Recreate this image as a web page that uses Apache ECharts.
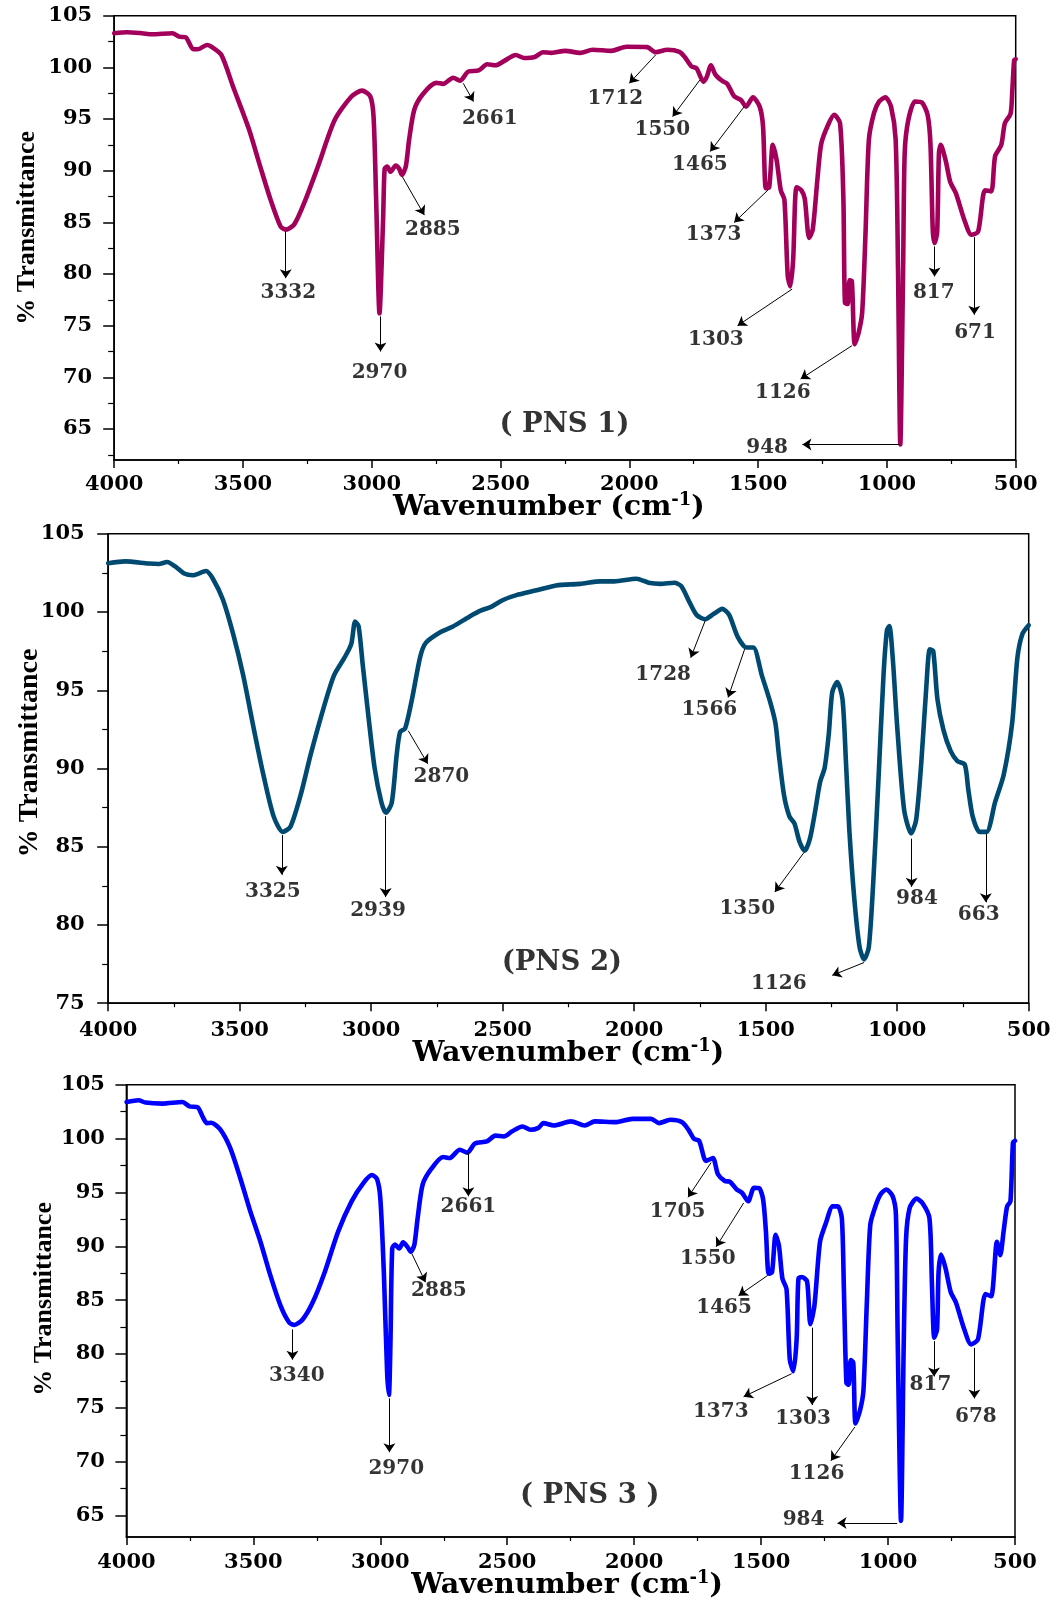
<!DOCTYPE html>
<html>
<head>
<meta charset="utf-8">
<title>FTIR spectra of PNS 1, PNS 2 and PNS 3</title>
<script src="https://cdn.jsdelivr.net/npm/echarts@6/dist/echarts.min.js"></script>
<style>
  html, body { margin: 0; padding: 0; background: #fff; }
  #chart { width: 1056px; height: 1598px; }
</style>
</head>
<body>
<div id="chart"></div>
<script>
// ---------- spectra: wavenumber (cm-1) and % transmittance ----------
const pns1Wavenumber = [4000,3951,3892,3853,3774,3748,3722,3693,3676,3640,3623,3584,3538,3478,3433,3393,3354,3334,3301,3262,3209,3144,3078,3038,3006,2993,2983,2970,2956,2950,2940,2927,2907,2894,2883,2868,2855,2835,2802,2750,2723,2684,2658,2625,2585,2552,2520,2487,2441,2408,2368,2335,2302,2249,2190,2143,2070,2011,1931,1898,1852,1805,1785,1759,1739,1712,1699,1683,1666,1640,1620,1593,1567,1547,1520,1494,1481,1470,1457,1443,1428,1412,1398,1385,1375,1364,1351,1332,1319,1302,1288,1269,1255,1229,1205,1182,1169,1163,1152,1145,1136,1125,1110,1096,1083,1070,1050,1030,1006,984,966,957,948,937,931,917,891,864,842,831,822,815,805,798,791,772,754,732,699,672,646,619,595,580,556,542,520,513,506,500];
const pns1Transmittance = [103.3,103.4,103.3,103.2,103.3,102.97,102.9,101.75,101.75,102.17,102.0,101.2,98.1,94.1,90.4,87.2,84.6,84.3,84.8,86.9,90.4,94.9,97.2,97.75,97.2,95.2,87.2,76.2,85.3,90.2,90.4,89.9,90.5,90.2,89.6,90.4,93.0,95.9,97.4,98.5,98.4,99.0,98.7,99.6,99.7,100.3,100.2,100.6,101.2,100.9,101.0,101.46,101.4,101.6,101.4,101.7,101.6,102.0,101.96,101.46,101.7,101.5,101.0,100.1,99.9,98.6,99.1,100.2,99.3,98.7,98.4,97.2,96.85,96.2,97.1,96.2,94.3,88.3,88.4,92.5,91.0,88.1,87.2,79.8,78.8,81.4,88.4,88.1,87.3,83.5,84.3,89.4,92.6,94.4,95.4,94.6,87.3,77.2,77.1,79.4,79.3,73.2,74.3,76.3,84.0,93.0,95.6,96.7,97.1,96.2,93.0,80.7,63.5,80.7,91.7,94.9,96.7,96.6,95.4,92.6,84.3,83.0,84.0,91.7,92.5,91.0,88.9,87.8,85.2,83.8,84.1,88.1,88.0,91.4,92.5,94.6,95.5,97.8,100.7,100.8];

const pns2Wavenumber = [4000,3936,3846,3808,3776,3744,3711,3679,3628,3602,3564,3525,3487,3448,3410,3371,3336,3307,3269,3230,3179,3141,3102,3076,3061,3048,3032,3012,2987,2961,2944,2922,2903,2890,2871,2845,2813,2791,2736,2691,2627,2582,2544,2499,2448,2376,2297,2206,2128,2076,1991,1945,1900,1847,1821,1789,1763,1730,1697,1665,1639,1606,1573,1547,1515,1482,1463,1450,1430,1410,1391,1371,1352,1332,1313,1293,1276,1260,1247,1228,1208,1195,1182,1163,1143,1126,1108,1091,1071,1052,1039,1030,1017,1000,974,947,928,908,889,876,863,847,824,797,771,743,730,713,687,660,628,595,563,543,524,500];
const pns2Transmittance = [103.12,103.24,103.1,103.07,103.2,102.9,102.46,102.35,102.62,102.13,100.8,98.6,95.97,92.67,89.6,86.94,85.95,86.28,88.26,90.9,93.99,95.97,97.07,97.95,99.39,99.1,96.6,93.55,90.03,87.83,87.17,87.8,90.9,92.34,92.56,94.43,97.18,98.06,98.73,99.06,99.7,100.1,100.33,100.77,101.08,101.37,101.7,101.8,101.96,101.96,102.13,101.87,101.8,101.87,101.65,100.6,99.82,99.54,99.89,100.2,99.82,98.4,97.73,97.73,95.97,94.2,92.9,90.9,88.26,86.94,86.5,85.3,84.74,85.5,87.17,89.15,90.03,92.23,94.87,95.53,94.43,90.47,86.06,81.66,78.58,77.8,78.58,82.76,89.37,95.97,98.83,99.1,97.07,92.67,87.4,85.85,86.72,90.47,95.3,97.62,97.5,94.43,92.45,91.13,90.47,90.25,88.7,86.94,85.95,85.95,87.83,89.6,92.89,97.07,98.6,99.16];

const pns3Wavenumber = [3999,3952,3925,3859,3779,3752,3719,3699,3683,3666,3632,3592,3552,3512,3472,3433,3393,3359,3339,3306,3266,3219,3166,3113,3066,3033,3013,3000,2986,2973,2966,2960,2953,2942,2926,2910,2893,2880,2866,2853,2833,2800,2753,2727,2687,2657,2627,2580,2547,2513,2480,2440,2409,2377,2357,2317,2249,2195,2155,2074,2007,1933,1902,1858,1811,1784,1764,1744,1717,1690,1670,1643,1623,1596,1575,1551,1528,1508,1492,1481,1470,1457,1443,1430,1416,1400,1387,1373,1360,1353,1340,1319,1306,1290,1268,1245,1218,1198,1182,1174,1164,1155,1147,1137,1128,1110,1097,1084,1070,1050,1030,1007,982,969,962,949,938,929,915,888,864,837,827,818,807,801,791,774,753,733,700,673,646,616,594,571,558,545,531,518,508,500];
const pns3Transmittance = [103.4,103.56,103.35,103.25,103.4,103.0,102.9,102.0,101.44,101.47,100.9,99.18,96.37,93.25,90.43,87.3,84.5,82.93,82.7,83.2,84.8,87.6,91.37,94.18,95.9,96.62,96.25,94.5,87.6,78.24,76.2,81.0,89.8,90.17,89.8,90.37,89.95,89.5,90.12,92.6,95.75,97.16,98.3,98.2,98.97,98.7,99.56,99.74,100.28,100.2,100.69,101.13,100.82,101.0,101.44,101.22,101.6,101.22,101.6,101.53,101.84,101.84,101.44,101.75,101.53,100.75,99.97,99.8,97.94,98.19,96.69,96.06,96.0,95.28,94.96,94.18,95.43,95.4,94.34,91.37,87.46,87.6,91.06,90.1,87.0,86.05,79.48,78.4,81.4,87.0,87.15,86.74,82.77,84.5,90.43,92.15,93.71,93.71,92.6,86.05,77.3,77.15,79.43,79.2,73.55,74.8,76.6,84.5,92.0,93.7,94.81,95.28,94.66,92.94,81.36,64.5,81.36,90.74,93.55,94.43,94.0,92.6,86.37,81.52,82.3,87.6,89.24,88.0,85.74,84.8,82.3,80.9,81.36,85.58,85.36,90.43,89.18,91.37,93.71,94.18,99.65,99.8];

// ---------- peak callouts ----------
// [text, arrow tail wn, arrow tail %T, arrow head wn, arrow head %T, text wn, text %T]
const pns1Peaks = [
  ['3332', 3334, 84.1, 3334, 79.6, 3324, 78.15],
  ['2970', 2966, 75.9, 2966, 72.5, 2970, 70.4],
  ['2885', 2881, 89.4, 2796, 85.7, 2763, 84.3],
  ['2661', 2645, 98.46, 2605, 96.69, 2542, 95.07],
  ['1712', 1898, 101.2, 2000, 98.46, 2054, 97.0],
  ['1550', 1726, 98.78, 1832, 95.24, 1872, 93.95],
  ['1465', 1554, 96.2, 1686, 91.85, 1726, 90.56],
  ['1373', 1461, 88.15, 1593, 84.99, 1673, 83.8],
  ['1303', 1368, 78.54, 1580, 75.0, 1664, 73.64],
  ['1126', 1136, 73.06, 1335, 69.84, 1404, 68.49],
  ['948', 951, 63.49, 1328, 63.49, 1465, 63.17],
  ['817', 815, 82.67, 815, 79.77, 818, 78.16],
  ['671', 661, 83.57, 661, 76.06, 658, 74.35]
];
const pns2Peaks = [
  ['3325', 3340, 85.74, 3340, 83.21, 3374, 82.15],
  ['2939', 2945, 86.95, 2945, 81.78, 2974, 80.9],
  ['2870', 2859, 92.41, 2785, 90.3, 2733, 89.48],
  ['1728', 1730, 99.45, 1785, 97.08, 1890, 95.98],
  ['1566', 1580, 97.63, 1643, 94.54, 1714, 93.77],
  ['1350', 1354, 84.64, 1465, 82.11, 1570, 81.01],
  ['1126', 1126, 77.6, 1247, 76.78, 1450, 76.27],
  ['984', 945, 85.52, 945, 82.44, 925, 81.67],
  ['663', 663, 85.81, 663, 81.45, 690, 80.68]
];
const pns3Peaks = [
  ['3340', 3346, 82.29, 3346, 79.48, 3329, 77.98],
  ['2970', 2964, 75.88, 2964, 70.88, 2937, 69.32],
  ['2885', 2876, 89.33, 2822, 86.67, 2769, 85.89],
  ['2661', 2653, 98.71, 2653, 94.65, 2653, 93.71],
  ['1705', 1697, 97.78, 1788, 94.55, 1829, 93.18],
  ['1550', 1569, 94.02, 1677, 89.96, 1710, 88.8],
  ['1465', 1474, 87.3, 1589, 85.42, 1646, 84.33],
  ['1373', 1380, 78.17, 1569, 76.04, 1659, 74.63],
  ['1303', 1299, 82.45, 1299, 75.26, 1335, 74.0],
  ['1126', 1131, 73.22, 1225, 70.1, 1282, 68.85],
  ['984', 964, 64.31, 1199, 64.31, 1333, 64.62],
  ['817', 819, 81.2, 819, 77.92, 833, 77.14],
  ['678', 660, 80.57, 660, 75.88, 654, 74.16]
];

// sample tags: [text, wn, %T]
const sampleTags = [
  ['( PNS 1)', 2252, 65.4],
  ['(PNS 2)', 2275, 77.55],
  ['( PNS 3 )', 2175, 66.8]
];

// axis ranges and tick values
const xTicks = [4000, 3500, 3000, 2500, 2000, 1500, 1000, 500];
const yRanges = [[62, 105], [75, 105], [63, 105]];
const yMajorTicks = [
  [65, 70, 75, 80, 85, 90, 95, 100, 105],
  [75, 80, 85, 90, 95, 100, 105],
  [65, 70, 75, 80, 85, 90, 95, 100, 105]
];
const yMinorTicks = [
  [62.5, 67.5, 72.5, 77.5, 82.5, 87.5, 92.5, 97.5, 102.5],
  [77.5, 82.5, 87.5, 92.5, 97.5, 102.5],
  [67.5, 72.5, 77.5, 82.5, 87.5, 92.5, 97.5, 102.5]
];

// ---------- layout / style ----------
const spectra = [
  { wn: pns1Wavenumber, t: pns1Transmittance, peaks: pns1Peaks, color: '#A2005A' },
  { wn: pns2Wavenumber, t: pns2Transmittance, peaks: pns2Peaks, color: '#004A72' },
  { wn: pns3Wavenumber, t: pns3Transmittance, peaks: pns3Peaks, color: '#0000FF' }
];
const grids = [
  { left: 114.2, top: 15.7, width: 901.5, height: 444.3 },
  { left: 108.2, top: 533.8, width: 920.5, height: 469.4 },
  { left: 126.4, top: 1084.8, width: 888.6, height: 452.3 }
];
const xLabelMargin = [14, 17, 15];
const xNameGap = [31.5, 34, 32.5];
const xNamePad = [[0, 32, 0, 0], [0, 0, 0, 0], [0, 7, 0, 0]];
const yLabelMargin = [22, 23.5, 21.5];
const yNamePad = [[0, 0, 0, 20], [0, 0, 0, 31], [0, 0, 0, 24]];
const yNameGap = [74, 64, 69];
const yNameSize = [26, 28, 26];

const TICK_FONT = 'DejaVu Serif';
const black = '#000';

const option = {
  animation: false,
  backgroundColor: '#fff',
  grid: grids.map(g => Object.assign({
    show: true, borderColor: black, borderWidth: 1.5, backgroundColor: 'transparent',
    containLabel: false, outerBoundsMode: 'none'
  }, g)),
  xAxis: grids.map((g, i) => ({
    type: 'value', gridIndex: i, inverse: true,
    min: 500, max: 4000, interval: 500,
    axisLine: { show: true, lineStyle: { color: black, width: 1.5 } },
    axisTick: { show: true, inside: false, length: 8, lineStyle: { color: black, width: 1.5 } },
    minorTick: { show: true, splitNumber: 2, length: 4, lineStyle: { color: black, width: 1.2 } },
    splitLine: { show: false },
    axisLabel: {
      color: black, fontFamily: TICK_FONT, fontWeight: 'bold', fontSize: 21, margin: xLabelMargin[i],
      formatter: v => xTicks.indexOf(v) >= 0 ? String(v) : ''
    },
    name: 'Wavenumber (cm{sup|-1})',
    nameLocation: 'middle', nameGap: xNameGap[i], nameMoveOverlap: false,
    nameTextStyle: {
      color: black, fontFamily: TICK_FONT, fontWeight: 'bold', fontSize: 28.5,
      padding: xNamePad[i],
      rich: { sup: { fontFamily: TICK_FONT, fontWeight: 'bold', fontSize: 18, verticalAlign: 'top', padding: [0, 0, 14, 0] } }
    }
  })),
  yAxis: [],
  series: []
};

grids.forEach((g, i) => {
  // main value axis with labels and major ticks
  option.yAxis.push({
    type: 'value', gridIndex: i, position: 'left',
    min: yRanges[i][0], max: yRanges[i][1],
    axisLine: { show: true, lineStyle: { color: black, width: 1.5 } },
    axisTick: { show: true, inside: false, length: 11, customValues: yMajorTicks[i], lineStyle: { color: black, width: 1.5 } },
    axisLabel: { customValues: yMajorTicks[i], color: black, fontFamily: TICK_FONT, fontWeight: 'bold', fontSize: 21, margin: yLabelMargin[i] },
    splitLine: { show: false },
    name: '% Transmittance', nameLocation: 'middle', nameGap: yNameGap[i], nameRotate: 90, nameMoveOverlap: false,
    nameTextStyle: { color: black, fontFamily: 'Liberation Serif', fontWeight: 'bold', fontSize: yNameSize[i], padding: yNamePad[i] }
  });
});
grids.forEach((g, i) => {
  // companion axis carrying the short minor ticks
  option.yAxis.push({
    type: 'value', gridIndex: i, position: 'left',
    min: yRanges[i][0], max: yRanges[i][1],
    axisLine: { show: false },
    axisTick: { show: true, inside: false, length: 6, customValues: yMinorTicks[i], lineStyle: { color: black, width: 1.2 } },
    axisLabel: { show: false },
    splitLine: { show: false }
  });
});

spectra.forEach((s, i) => {
  option.series.push({
    type: 'line', xAxisIndex: i, yAxisIndex: i,
    data: s.wn.map((w, k) => [w, s.t[k]]),
    showSymbol: false, smooth: 0.25, silent: true,
    lineStyle: { color: s.color, width: 4.6, cap: 'round', join: 'round' },
    z: 3
  });
  option.series.push({
    type: 'scatter', xAxisIndex: i, yAxisIndex: i,
    symbolSize: 0, silent: true, z: 5,
    data: s.peaks.map(p => ({ value: [p[5], p[6]], name: p[0] })),
    label: {
      show: true, position: 'inside', formatter: '{b}',
      color: black, fontFamily: TICK_FONT, fontWeight: 'bold', fontSize: 20
    },
    markLine: {
      silent: true, animation: false,
      symbol: ['none', 'arrow'], symbolSize: 9,
      lineStyle: { color: black, width: 1, type: 'solid' },
      label: { show: false },
      emphasis: { disabled: true },
      data: s.peaks.map(p => [{ coord: [p[1], p[2]] }, { coord: [p[3], p[4]] }])
    }
  });
  option.series.push({
    type: 'scatter', xAxisIndex: i, yAxisIndex: i,
    symbolSize: 0, silent: true, z: 5,
    data: [{ value: [sampleTags[i][1], sampleTags[i][2]], name: sampleTags[i][0] }],
    label: {
      show: true, position: 'inside', formatter: '{b}',
      color: black, fontFamily: TICK_FONT, fontWeight: 'bold', fontSize: 27.5
    }
  });
});

const chart = echarts.init(document.getElementById('chart'), null, { renderer: 'canvas' });
chart.setOption(option);
</script>
</body>
</html>
